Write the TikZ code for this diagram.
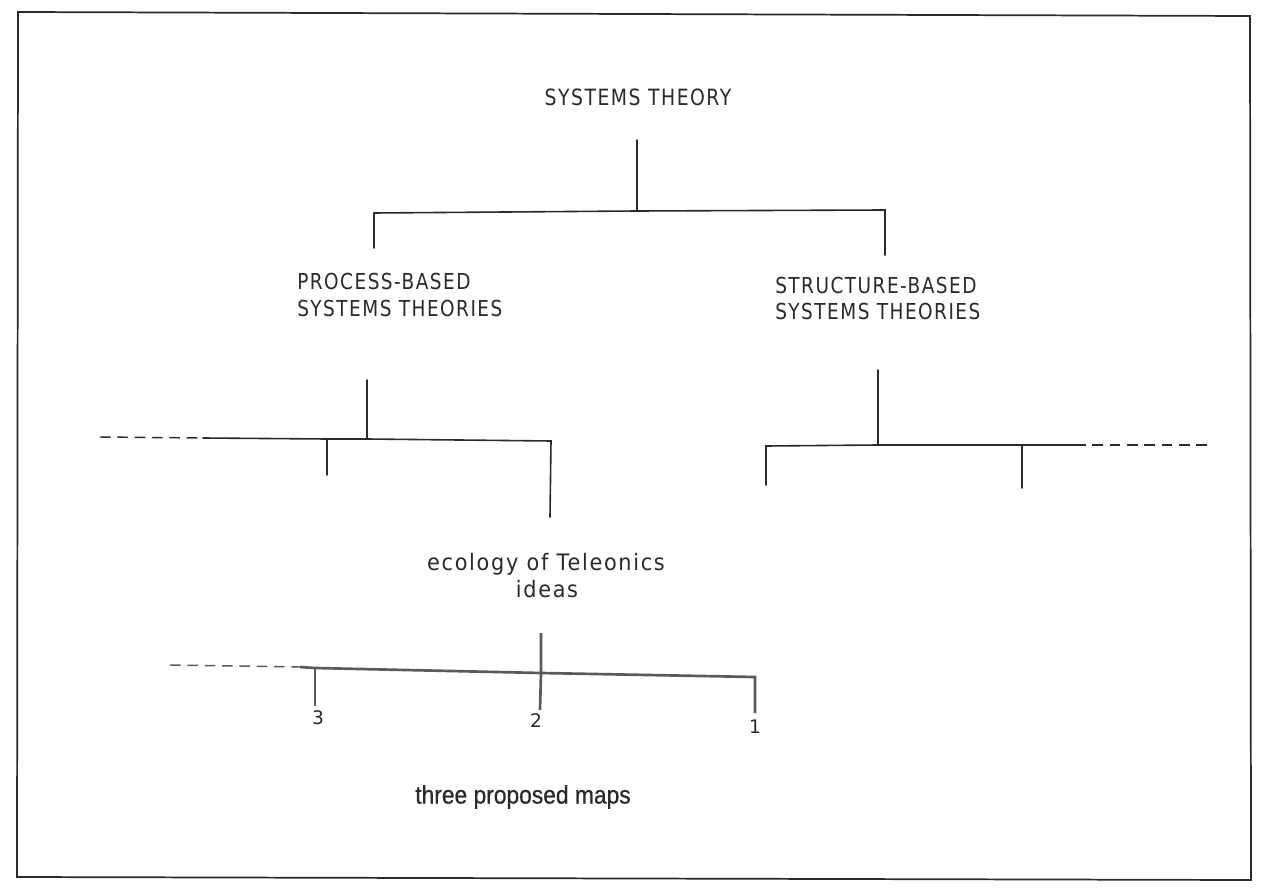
\documentclass[tikz,border=0pt]{standalone}
\usepackage{fontspec}
\usepackage{graphicx}
\newfontfamily\plotfont[LetterSpace=8]{DejaVu Sans}
\newfontfamily\helvfont[FakeBold=0.7]{Liberation Sans}
\definecolor{ink}{HTML}{2A2A2A}
\definecolor{pencil}{HTML}{5A5A5A}
\newcommand{\tallcaps}[1]{\scalebox{0.84}[1]{#1}}
\tikzset{
  treeline/.style={draw=ink, line width=1.2pt, line cap=round},
  mapline/.style={draw=pencil, line width=2.0pt, line cap=butt},
  dashline/.style={draw=ink, line width=1.1pt, dash pattern=on 8pt off 5pt},
  dashmap/.style={draw=pencil, line width=1.1pt, dash pattern=on 8pt off 5pt},
  caps/.style={font=\plotfont\fontsize{16.5}{20}\selectfont, text=ink, inner sep=0pt},
  lower/.style={font=\plotfont\fontsize{17}{18}\selectfont, text=ink, inner sep=0pt},
  digit/.style={font=\plotfont\fontsize{14}{16}\selectfont, text=ink, inner sep=0pt},
}
\begin{document}
\begin{tikzpicture}[x=0.75pt, y=-0.75pt]
  \useasboundingbox (0,0) rectangle (1267,891);
  \fill[white] (0,0) rectangle (1267,891);

  % outer frame
  \draw[ink, line width=1.3pt] (18,12) -- (1250,16) -- (1251,880) -- (17,877) -- cycle;

  % text nodes
  \node[caps, font=\plotfont\fontsize{16.8}{20}\selectfont] (root) at (638,97) {\tallcaps{SYSTEMS THEORY}};
  \node[caps, anchor=west] (proc) at (297,281) {\tallcaps{PROCESS-BASED}};
  \node[caps, anchor=west] (proc2) at (297,308) {\tallcaps{SYSTEMS THEORIES}};
  \node[caps, anchor=west] (struc) at (775,285) {\tallcaps{STRUCTURE-BASED}};
  \node[caps, anchor=west] (struc2) at (775,311) {\tallcaps{SYSTEMS THEORIES}};
  \node[lower] (eco) at (546,564) {\scalebox{0.92}[1]{ecology of Teleonics}};
  \node[lower] (eco2) at (547,589) {\scalebox{0.92}[1]{ideas}};
  \node[digit] (m3) at (318,718) {3};
  \node[digit] (m2) at (536,721) {2};
  \node[digit] (m1) at (755,727) {1};
  \node[font=\helvfont\fontsize{19}{22}\selectfont, text=ink, inner sep=0pt] (maps) at (523,797) {\scalebox{0.9}[1]{three proposed maps}};

  % first split
  \coordinate (rootStem) at (637,140);
  \coordinate (rootJ) at (637,211);
  \coordinate (barL) at (374,213);
  \coordinate (barR) at (885,210);
  \coordinate (procTop) at (374,248);
  \coordinate (strucTop) at (885,255);
  \draw[treeline] (rootStem) -- (rootJ);
  \draw[treeline] (barL) -- (procTop);
  \draw[treeline] (barL) -- (rootJ) -- (barR) -- (strucTop);

  % process-based branches
  \coordinate (procStem) at (367,380);
  \coordinate (procJ) at (367,439);
  \coordinate (pDashL) at (100,437);
  \coordinate (pDashR) at (203,438);
  \coordinate (pA) at (327,439);
  \coordinate (pAend) at (327,475);
  \coordinate (pB) at (551,441);
  \coordinate (pBend) at (550,517);
  \draw[treeline] (procStem) -- (procJ);
  \draw[dashline] (pDashL) -- (pDashR);
  \draw[treeline] (pDashR) -- (pA) -- (procJ) -- (pB) -- (pBend);
  \draw[treeline] (pA) -- (pAend);

  % structure-based branches
  \coordinate (strucStem) at (878,370);
  \coordinate (strucJ) at (878,445);
  \coordinate (sA) at (766,446);
  \coordinate (sAend) at (766,485);
  \coordinate (sB) at (1022,445);
  \coordinate (sBend) at (1022,488);
  \coordinate (sDashL) at (1075,445);
  \coordinate (sDashR) at (1212,445);
  \draw[treeline] (strucStem) -- (strucJ);
  \draw[treeline] (sAend) -- (sA) -- (strucJ) -- (sB) -- (sDashL);
  \draw[treeline] (sB) -- (sBend);
  \draw[dashline] (sDashL) -- (sDashR);

  % the three maps
  \coordinate (ecoStem) at (541,633);
  \coordinate (ecoJ) at (541,673);
  \coordinate (mDashL) at (170,665);
  \coordinate (mDashR) at (300,667);
  \coordinate (t3) at (315,668);
  \coordinate (t3end) at (315,706);
  \coordinate (t2end) at (540,710);
  \coordinate (t1) at (755,677);
  \coordinate (t1end) at (755,713);
  \draw[dashmap] (mDashL) -- (mDashR);
  \draw[mapline] (mDashR) -- (t3) -- (ecoJ) -- (t1) -- (t1end);
  \draw[mapline] (t3) -- (t3end);
  \draw[mapline] (ecoStem) -- (ecoJ) -- (t2end);
\end{tikzpicture}
\end{document}
